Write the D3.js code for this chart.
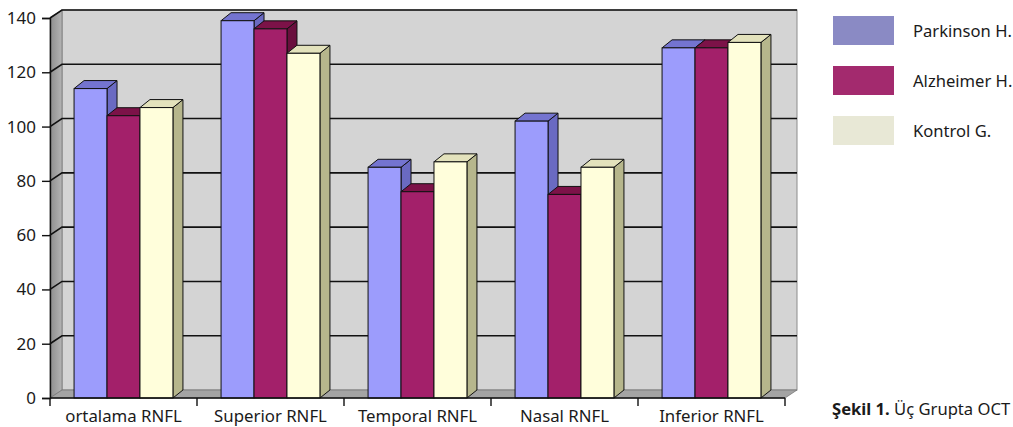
<!DOCTYPE html>
<html>
<head>
<meta charset="utf-8">
<script src="https://cdn.jsdelivr.net/npm/d3@7"></script>
<style>
  body { margin: 0; background: #fff; }
  svg { display: block; font-family: "Noto Sans", sans-serif; }
</style>
</head>
<body>
<svg id="chart" width="1013" height="427"></svg>
<script>
// --- data ---
const categories = ["ortalama RNFL", "Superior RNFL", "Temporal RNFL", "Nasal RNFL", "Inferior RNFL"];
const seriesNames = ["Parkinson H.", "Alzheimer H.", "Kontrol G."];
const parkinson = [114, 139, 85, 102, 129];
const alzheimer = [104, 136, 76, 75, 129];
const kontrol = [107, 127, 87, 85, 131];
const yTicks = [0, 20, 40, 60, 80, 100, 120, 140];

const seriesValues = [parkinson, alzheimer, kontrol];

// front / top / side colours for the 3D bars, flat colours for the legend
const barColors = [
    { front: "#9c9cfc", top: "#7474d0", side: "#6a6ac2" },
    { front: "#a3206a", top: "#7c1248", side: "#6a0f3e" },
    { front: "#fffedb", top: "#e3e2bc", side: "#b6b68c" }
];
const legendColors = ["#8a8ac4", "#a32a6e", "#e8e8d6"];

// --- setup ---
const svg = d3.select("#chart");
const depthX = 12, depthY = 8;      // wall depth
const barDX = 10, barDY = 8;        // bar depth

const x0 = d3.scaleBand()
    .domain(categories)
    .range([50, 785]);

const x1 = d3.scaleBand()
    .domain(seriesNames)
    .range([0, x0.bandwidth()])
    .paddingOuter(0.73);

const y = d3.scaleLinear()
    .domain([0, 140])
    .range([398, 18]);

// --- walls ---
const wall = svg.append("g");

// back wall
wall.append("rect")
    .attr("x", 50 + depthX)
    .attr("y", y(140) - depthY)
    .attr("width", 785 - 50)
    .attr("height", y(0) - y(140))
    .attr("fill", "#d4d4d4")
    .attr("stroke", "#8c8c8c")
    .attr("stroke-width", 1);

// left side wall
const defs = svg.append("defs");
const lg = defs.append("linearGradient").attr("id", "leftWall");
lg.append("stop").attr("offset", "0%").attr("stop-color", "#8e8e8e");
lg.append("stop").attr("offset", "100%").attr("stop-color", "#b4b4b4");

wall.append("path")
    .attr("d", `M50,${y(140)} L${50 + depthX},${y(140) - depthY} L${50 + depthX},${y(0) - depthY} L50,${y(0)} Z`)
    .attr("fill", "url(#leftWall)")
    .attr("stroke", "#777")
    .attr("stroke-width", 0.8);

// floor
wall.append("path")
    .attr("d", `M50,${y(0)} L${50 + depthX},${y(0) - depthY} L${785 + depthX},${y(0) - depthY} L785,${y(0)} Z`)
    .attr("fill", "#a4a4a4")
    .attr("stroke", "#777")
    .attr("stroke-width", 0.8);

// grid lines (back wall + diagonal on the side wall)
wall.selectAll(".grid")
    .data(yTicks.filter(d => d > 0))
    .join("path")
    .attr("class", "grid")
    .attr("d", d => `M50,${y(d)} L${50 + depthX},${y(d) - depthY} L${785 + depthX},${y(d) - depthY}`)
    .attr("fill", "none")
    .attr("stroke", "#111")
    .attr("stroke-width", 1.6);

// --- bars ---
const groups = svg.selectAll(".bar-group")
    .data(categories)
    .join("g")
    .attr("class", "bar-group")
    .attr("transform", d => `translate(${x0(d)},0)`);

groups.each(function (cat, ci) {
    const g = d3.select(this);
    seriesNames.forEach((s, si) => {
        const v = seriesValues[si][ci];
        const bx = x1(s), bw = x1.bandwidth();
        const top = y(v), bottom = y(0);
        const c = barColors[si];

        // side face
        g.append("path")
            .attr("d", `M${bx + bw},${top} L${bx + bw + barDX},${top - barDY} L${bx + bw + barDX},${bottom - barDY} L${bx + bw},${bottom} Z`)
            .attr("fill", c.side)
            .attr("stroke", "#111")
            .attr("stroke-width", 1);
        // top face
        g.append("path")
            .attr("d", `M${bx},${top} L${bx + barDX},${top - barDY} L${bx + bw + barDX},${top - barDY} L${bx + bw},${top} Z`)
            .attr("fill", c.top)
            .attr("stroke", "#111")
            .attr("stroke-width", 1);
        // front face
        g.append("rect")
            .attr("x", bx)
            .attr("y", top)
            .attr("width", bw)
            .attr("height", bottom - top)
            .attr("fill", c.front)
            .attr("stroke", "#111")
            .attr("stroke-width", 1);
    });
});

// --- axes ---
svg.append("g")
    .attr("transform", "translate(50,0)")
    .call(d3.axisLeft(y).tickValues(yTicks).tickSize(8).tickPadding(6))
    .call(g => g.select(".domain").attr("stroke", "#111").attr("stroke-width", 1.4))
    .call(g => g.selectAll(".tick line").attr("stroke", "#111").attr("stroke-width", 1.4))
    .selectAll("text")
    .attr("fill", "#1a1a1a")
    .style("font-size", "17px")
    .style("font-family", "'Noto Sans', sans-serif");

const xAxis = svg.append("g")
    .attr("transform", `translate(0,${y(0)})`);

xAxis.append("line")
    .attr("x1", 50).attr("x2", 785)
    .attr("y1", 0).attr("y2", 0)
    .attr("stroke", "#111").attr("stroke-width", 1.4);

xAxis.selectAll(".xtick")
    .data(categories.map(c => x0(c)).concat([785]))
    .join("line")
    .attr("class", "xtick")
    .attr("x1", d => d).attr("x2", d => d)
    .attr("y1", 0).attr("y2", 8)
    .attr("stroke", "#111").attr("stroke-width", 1.4);

xAxis.selectAll(".xlabel")
    .data(categories)
    .join("text")
    .attr("class", "xlabel")
    .attr("x", d => x0(d) + x0.bandwidth() / 2)
    .attr("y", 24)
    .attr("text-anchor", "middle")
    .attr("fill", "#1a1a1a")
    .style("font-size", "16.8px")
    .text(d => d);

// --- legend ---
const legend = svg.append("g")
    .attr("transform", "translate(833,16)");

legend.selectAll(".legend-item")
    .data(seriesNames)
    .join("g")
    .attr("class", "legend-item")
    .attr("transform", (d, i) => `translate(0,${i * 50})`)
    .call(g => {
        g.append("rect")
            .attr("width", 61)
            .attr("height", 29)
            .attr("fill", (d, i) => legendColors[i]);
        g.append("text")
            .attr("x", 80)
            .attr("y", 21)
            .attr("fill", "#1a1a1a")
            .style("font-size", "16.6px")
            .text(d => d);
    });

// --- caption ---
const caption = svg.append("text")
    .attr("x", 832)
    .attr("y", 415)
    .attr("fill", "#1a1a1a")
    .style("font-size", "16.6px");
caption.append("tspan").attr("font-weight", "bold").text("Şekil 1.");
caption.append("tspan").text(" Üç Grupta OCT");
</script>
</body>
</html>
